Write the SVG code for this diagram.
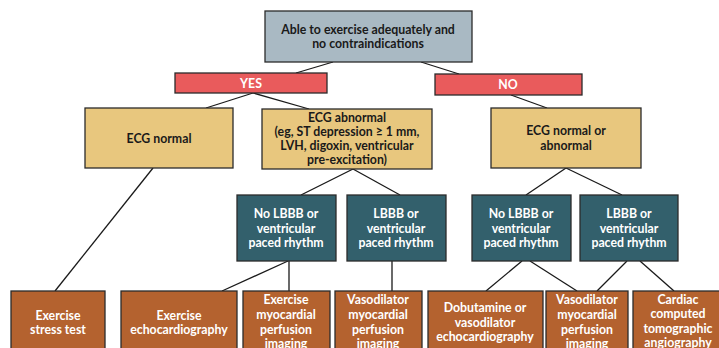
<svg xmlns="http://www.w3.org/2000/svg" width="719" height="348" viewBox="0 0 719 348">
<style>
text{font-family:Lato,"Open Sans","Liberation Sans",sans-serif;font-weight:bold;font-size:12.3px;text-anchor:middle}
.bx{stroke:#2b2b2b;stroke-width:1.3}
.gray{fill:#a9b9c3}
.red{fill:#e95b5c}
.tan{fill:#e8c77e}
.teal{fill:#33606c}
.brown{fill:#b4622f}
.dk{fill:#1a1a1a}
.wt{fill:#ffffff}
#connectors line{stroke:#1a1a1a;stroke-width:1.3}
</style>
<rect width="719" height="348" fill="#ffffff"/>
<g id="connectors">
<line x1="333" y1="62" x2="296" y2="73"/>
<line x1="421" y1="62" x2="459" y2="74"/>
<line x1="253" y1="93" x2="206" y2="108"/>
<line x1="253" y1="93" x2="309" y2="109"/>
<line x1="511" y1="95" x2="547" y2="108"/>
<line x1="153" y1="168" x2="55" y2="291"/>
<line x1="353" y1="169" x2="301" y2="195"/>
<line x1="353" y1="169" x2="400" y2="195"/>
<line x1="566" y1="168" x2="526" y2="195"/>
<line x1="566" y1="168" x2="622" y2="195"/>
<line x1="288" y1="261" x2="222" y2="291"/>
<line x1="289" y1="261" x2="289" y2="291"/>
<line x1="392" y1="261" x2="392" y2="291"/>
<line x1="522" y1="261" x2="486" y2="291"/>
<line x1="530" y1="261" x2="577" y2="291"/>
<line x1="627" y1="261" x2="597" y2="291"/>
<line x1="640" y1="261" x2="674" y2="291"/>
</g>
<g id="start">
<rect class="bx gray" x="265" y="11" width="207" height="51"/>
<text class="dk" x="368" y="34">Able to exercise adequately and</text>
<text class="dk" x="368" y="48">no contraindications</text>
</g>
<g id="yes">
<rect class="bx red" x="175" y="73" width="152" height="20"/>
<text class="wt" x="251" y="88">YES</text>
</g>
<g id="no">
<rect class="bx red" x="435" y="74" width="147" height="21"/>
<text class="wt" x="508" y="89">NO</text>
</g>
<g id="ecg-normal">
<rect class="bx tan" x="85" y="108" width="148" height="60"/>
<text class="dk" x="159" y="143">ECG normal</text>
</g>
<g id="ecg-abnormal">
<rect class="bx tan" x="262" y="109" width="170" height="60"/>
<text class="dk" x="347" y="122">ECG abnormal</text>
<text class="dk" x="347" y="136">(eg, ST depression ≥ 1 mm,</text>
<text class="dk" x="347" y="150">LVH, digoxin, ventricular</text>
<text class="dk" x="347" y="164">pre-excitation)</text>
</g>
<g id="ecg-either">
<rect class="bx tan" x="491" y="108" width="150" height="60"/>
<text class="dk" x="566" y="135">ECG normal or</text>
<text class="dk" x="566" y="150">abnormal</text>
</g>
<g id="nolbbb-1">
<rect class="bx teal" x="237" y="195" width="99" height="66"/>
<text class="wt" x="286" y="218">No LBBB or</text>
<text class="wt" x="286" y="233">ventricular</text>
<text class="wt" x="286" y="247">paced rhythm</text>
</g>
<g id="lbbb-1">
<rect class="bx teal" x="347" y="195" width="99" height="66"/>
<text class="wt" x="396" y="218">LBBB or</text>
<text class="wt" x="396" y="233">ventricular</text>
<text class="wt" x="396" y="247">paced rhythm</text>
</g>
<g id="nolbbb-2">
<rect class="bx teal" x="472" y="195" width="99" height="66"/>
<text class="wt" x="521" y="218">No LBBB or</text>
<text class="wt" x="521" y="233">ventricular</text>
<text class="wt" x="521" y="247">paced rhythm</text>
</g>
<g id="lbbb-2">
<rect class="bx teal" x="580" y="195" width="98" height="66"/>
<text class="wt" x="629" y="218">LBBB or</text>
<text class="wt" x="629" y="233">ventricular</text>
<text class="wt" x="629" y="247">paced rhythm</text>
</g>
<g id="ex-stress">
<rect class="bx brown" x="11" y="291" width="94" height="70"/>
<text class="wt" x="58" y="320">Exercise</text>
<text class="wt" x="58" y="334">stress test</text>
</g>
<g id="ex-echo">
<rect class="bx brown" x="121" y="291" width="116" height="70"/>
<text class="wt" x="179" y="320">Exercise</text>
<text class="wt" x="179" y="334">echocardiography</text>
</g>
<g id="ex-mpi">
<rect class="bx brown" x="243" y="291" width="87" height="70"/>
<text class="wt" x="286" y="304">Exercise</text>
<text class="wt" x="286" y="319">myocardial</text>
<text class="wt" x="286" y="334">perfusion</text>
<text class="wt" x="286" y="348">imaging</text>
</g>
<g id="vaso-mpi-1">
<rect class="bx brown" x="335" y="291" width="87" height="70"/>
<text class="wt" x="378" y="304">Vasodilator</text>
<text class="wt" x="378" y="319">myocardial</text>
<text class="wt" x="378" y="334">perfusion</text>
<text class="wt" x="378" y="348">imaging</text>
</g>
<g id="dobutamine">
<rect class="bx brown" x="428" y="291" width="115" height="70"/>
<text class="wt" x="485" y="312">Dobutamine or</text>
<text class="wt" x="485" y="327">vasodilator</text>
<text class="wt" x="485" y="341">echocardiography</text>
</g>
<g id="vaso-mpi-2">
<rect class="bx brown" x="546" y="291" width="82" height="70"/>
<text class="wt" x="587" y="304">Vasodilator</text>
<text class="wt" x="587" y="319">myocardial</text>
<text class="wt" x="587" y="334">perfusion</text>
<text class="wt" x="587" y="348">imaging</text>
</g>
<g id="ccta">
<rect class="bx brown" x="633" y="291" width="90" height="70"/>
<text class="wt" x="678" y="304">Cardiac</text>
<text class="wt" x="678" y="318">computed</text>
<text class="wt" x="678" y="333">tomographic</text>
<text class="wt" x="678" y="347">angiography</text>
</g>
</svg>
